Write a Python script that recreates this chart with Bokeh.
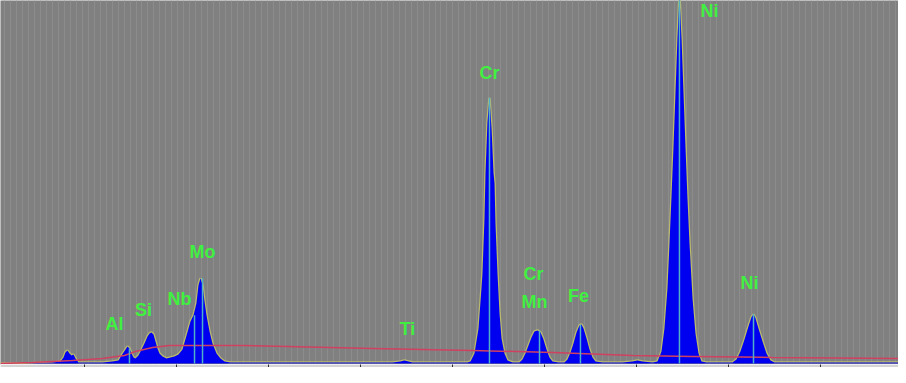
from bokeh.plotting import figure
from bokeh.models import Range1d, SingleIntervalTicker, Grid
from bokeh.core.properties import value
from bokeh.embed import file_html
from bokeh.resources import INLINE

# EDS spectrum: energy (keV) and counts
energy_kev = [
    0.087, 0.326, 0.652, 0.739, 0.772, 0.793, 0.815, 0.837, 0.859, 0.880, 0.902, 0.935,
    1.033, 1.196, 1.304, 1.370, 1.402, 1.424, 1.446, 1.467, 1.489, 1.511, 1.533, 1.554,
    1.587, 1.620, 1.652, 1.685, 1.707, 1.728, 1.750, 1.772, 1.793, 1.815, 1.848, 1.891,
    1.935, 1.978, 2.022, 2.065, 2.109, 2.152, 2.185, 2.217, 2.239, 2.261, 2.283, 2.304,
    2.326, 2.359, 2.391, 2.435, 2.478, 2.522, 2.587, 2.826, 3.261, 3.804, 4.348, 4.435,
    4.478, 4.522, 4.565, 4.891, 5.163, 5.196, 5.239, 5.283, 5.315, 5.326, 5.348, 5.359,
    5.380, 5.402, 5.424, 5.446, 5.457, 5.467, 5.489, 5.511, 5.533, 5.565, 5.598, 5.652,
    5.728, 5.761, 5.793, 5.826, 5.859, 5.891, 5.924, 5.957, 5.989, 6.022, 6.054, 6.087,
    6.152, 6.217, 6.250, 6.283, 6.315, 6.348, 6.380, 6.402, 6.424, 6.457, 6.489, 6.522,
    6.554, 6.630, 6.848, 6.957, 7.011, 7.065, 7.174, 7.228, 7.272, 7.304, 7.337, 7.359,
    7.380, 7.402, 7.424, 7.446, 7.467, 7.489, 7.511, 7.533, 7.554, 7.576, 7.609, 7.641,
    7.674, 7.707, 7.761, 8.043, 8.087, 8.130, 8.174, 8.217, 8.250, 8.272, 8.293, 8.326,
    8.370, 8.413, 8.457, 8.500, 8.913, 9.348, 9.848,
]
counts = [
    0, 0, 10, 20, 60, 110, 130, 100, 80, 90, 50, 10,
    10, 10, 20, 30, 80, 110, 140, 170, 150, 100, 60, 50,
    80, 140, 200, 270, 300, 310, 290, 220, 150, 100, 70, 50,
    60, 70, 90, 140, 280, 420, 480, 600, 780, 850, 780, 620,
    480, 320, 200, 100, 50, 20, 10, 10, 10, 10, 10, 20,
    30, 20, 10, 10, 10, 20, 100, 350, 750, 900, 1450, 1900,
    2400, 2650, 2350, 1900, 1800, 1400, 900, 500, 250, 100, 30, 10,
    10, 40, 100, 180, 260, 320, 330, 310, 240, 140, 60, 20,
    10, 10, 40, 110, 200, 310, 380, 390, 350, 250, 140, 60,
    20, 10, 10, 20, 30, 20, 10, 20, 120, 350, 750, 1200,
    1650, 2150, 2700, 3250, 3670, 3250, 2700, 2150, 1650, 1200, 650, 300,
    100, 20, 10, 10, 40, 120, 240, 370, 460, 490, 450, 350,
    220, 100, 30, 10, 10, 10, 10,
]

# background (bremsstrahlung) fit line
bg_kev = [0.087, 0.435, 0.870, 1.196, 1.435, 1.554, 1.739, 1.924, 2.717,
          4.130, 5.217, 6.087, 6.957, 7.609, 8.478, 9.848]
bg_counts = [0, 10, 30, 50, 80, 120, 160, 180, 180,
             150, 130, 110, 80, 70, 60, 50]

# element marker lines
marker_kev = [1.489, 2.196, 2.283, 5.402, 5.946, 6.391, 7.467, 8.272]
marker_top = [150, 480, 850, 2650, 330, 390, 3670, 490]

# element labels
label_txt = ["Al", "Si", "Nb", "Mo", "Ti", "Cr", "Mn", "Fe", "Ni", "Cr", "Ni"]
label_kev = [1.326, 1.641, 2.033, 2.283, 4.511, 5.880, 5.891, 6.370, 8.228, 5.402, 7.793]
label_cnt = [390, 530, 640, 1110, 340, 890, 610, 670, 800, 2900, 3520]

p = figure(width=898, height=367, output_backend="svg", toolbar_location=None,
           x_range=Range1d(0.087, 9.848), y_range=Range1d(-10, 3620),
           y_axis_location=None, min_border_left=0, min_border_right=0,
           min_border_top=0, min_border_bottom=3,
           background_fill_color="#808080", border_fill_color="#d4d4d4",
           outline_line_color=None)

p.xgrid.visible = False
p.ygrid.visible = False

texture = Grid(dimension=0, ticker=SingleIntervalTicker(interval=0.065),
               grid_line_color="#8c8c8c", grid_line_width=1)
p.add_layout(texture)

p.xaxis.ticker = SingleIntervalTicker(interval=1, num_minor_ticks=0)
p.xaxis.major_label_text_font_size = "0px"
p.xaxis.major_label_standoff = 0
p.xaxis.major_tick_out = 3
p.xaxis.major_tick_in = 0
p.xaxis.major_tick_line_color = "#303030"
p.xaxis.minor_tick_line_color = None
p.xaxis.axis_line_color = "#f0f0f0"

p.line(energy_kev, counts, line_color="#c8c864", line_width=2.5, line_alpha=0.8)
p.varea(x=energy_kev, y1=0, y2=counts, fill_color="#0000f0")
p.line(bg_kev, bg_counts, line_color="#d04060", line_width=1.5)
p.segment(x0=marker_kev, y0=0, x1=marker_kev, y1=marker_top,
          line_color="#50b0c8", line_width=1.5)
p.text(x=label_kev, y=label_cnt, text=label_txt, text_color="#40f040",
       text_font=value("Liberation Sans"), text_font_style="bold",
       text_font_size="18px", text_align="center", text_baseline="middle")

open("out.html", "w").write(file_html(p, INLINE))
